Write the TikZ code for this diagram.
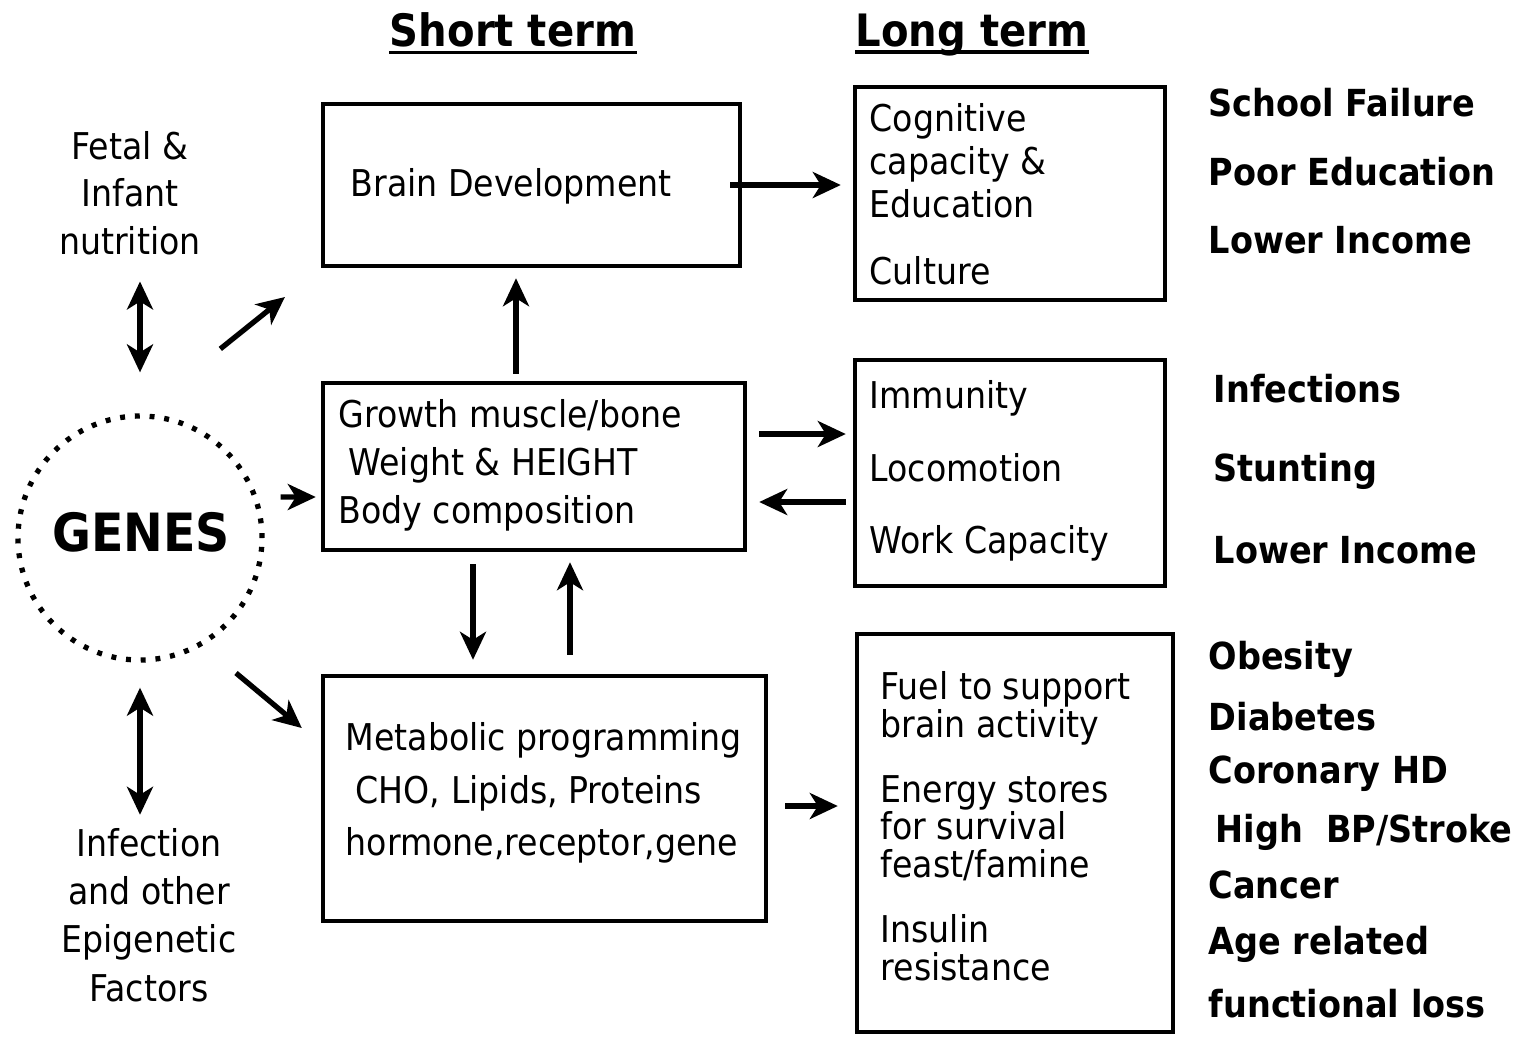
\documentclass[tikz,border=0pt]{standalone}
\usepackage{fontspec}
\setmainfont{DejaVu Sans Condensed}
\usetikzlibrary{arrows.meta}

\tikzset{
  box/.style={draw, line width=1.25pt, inner sep=0pt},
  txt/.style={inner sep=0pt, align=left, anchor=west},
  outcome/.style={inner sep=0pt, anchor=west, font=\bfseries\fontsize{10.6}{13}\selectfont},
  head/.style={inner sep=0pt, text depth=0pt, font=\bfseries\fontsize{12.7}{15}\selectfont},
  arr/.style={-{Stealth[length=2.8mm, width=2.6mm, inset=0.8mm]}, line width=1.5pt},
  dbl/.style={{Stealth[length=2.8mm, width=2.6mm, inset=0.8mm]}-{Stealth[length=2.8mm, width=2.6mm, inset=0.8mm]}, line width=1.5pt},
}

\begin{document}
\begin{tikzpicture}[x=0.1mm, y=-0.1mm]
  \useasboundingbox (0,0) rectangle (1537,1037);

  % headers
  \node[head] (shortt) at (513,30) {Short term};
  \node[head] (longt) at (972,30) {Long term};
  \draw[line width=1pt] ([yshift=-0.5mm]shortt.south west) -- ([yshift=-0.5mm]shortt.south east);
  \draw[line width=1pt] ([yshift=-0.5mm]longt.south west) -- ([yshift=-0.5mm]longt.south east);

  % genes and left side
  \node[circle, draw, line width=1.5pt, dash pattern=on 1.4pt off 2.8pt, minimum size=2.44cm, inner sep=0pt] (genes) at (140,538) {};
  \node[inner sep=0pt, font=\bfseries\fontsize{15}{18}\selectfont] (genestxt) at (141,532) {GENES};
  \node[inner sep=0pt, align=center, font=\fontsize{10.5}{13.5}\selectfont] (fetal) at (130,193) {Fetal \&\\Infant\\nutrition};
  \node[inner sep=0pt, align=center, font=\fontsize{10.5}{13.7}\selectfont] (infect) at (149,915) {Infection\\and other\\Epigenetic\\Factors};

  % short term boxes
  \node[box, minimum width=4.17cm, minimum height=1.62cm] (brain) at (531.5,185) {};
  \node[txt, font=\fontsize{10.5}{13}\selectfont] (braintxt) at (350,186) {Brain Development};
  \node[box, minimum width=4.22cm, minimum height=1.67cm] (growth) at (534,466.5) {};
  \node[txt, font=\fontsize{10.5}{13.7}\selectfont] (growthtxt) at (338,465) {Growth muscle/bone\\\hspace*{1mm}Weight \& HEIGHT\\Body composition};
  \node[box, minimum width=4.43cm, minimum height=2.45cm] (metab) at (544.5,798.5) {};
  \node[txt, font=\fontsize{10.5}{15}\selectfont] (metabtxt) at (345,793) {Metabolic programming\\\hspace*{1mm}CHO, Lipids, Proteins\\hormone,receptor,gene};

  % long term boxes
  \node[box, minimum width=3.10cm, minimum height=2.13cm] (cogn) at (1010,193.5) {};
  \node[txt, font=\fontsize{10.5}{12.3}\selectfont] (cogntxt) at (869,194) {Cognitive\\capacity \&\\Education\\[6.5pt]Culture};
  \node[box, minimum width=3.10cm, minimum height=2.26cm] (immu) at (1010,473) {};
  \node[txt, font=\fontsize{10.5}{20.6}\selectfont] (immutxt) at (869,471) {Immunity\\Locomotion\\Work Capacity};
  \node[box, minimum width=3.16cm, minimum height=3.98cm] (fuel) at (1015,833) {};
  \node[txt, font=\fontsize{10.5}{10.7}\selectfont] (fueltxt) at (880,826) {Fuel to support\\brain activity\\[7.8pt]Energy stores\\for survival\\feast/famine\\[7.8pt]Insulin\\resistance};

  % outcomes
  \foreach \y/\lbl [count=\i] in {103/School Failure, 172/Poor Education, 240/Lower Income}
    \node[outcome] (ra\i) at (1208,\y) {\lbl};
  \foreach \y/\lbl [count=\i] in {389/Infections, 471/Stunting, 550/Lower Income}
    \node[outcome] (rb\i) at (1213,\y) {\lbl};
  \foreach \y/\lbl [count=\i] in {659/Obesity, 717/Diabetes, 774/Coronary HD, 885/Cancer, 944/Age related, 1004/functional loss}
    \node[outcome] (rc\i) at (1208,\y) {\lbl};
  \node[outcome] (rc7) at (1215,832) {High\ \ BP/Stroke};

  % connectors
  \draw[dbl, shorten <=2.6mm, shorten >=4.1mm] (fetal.south -| genes.north) -- (genes.north);
  \draw[dbl, shorten <=2.5mm, shorten >=1.3mm] (genes.south) -- (genes.south |- infect.north);
  \draw[arr, shorten <=10.3mm, shorten >=4.6mm] (genes.north) -- (brain.south west);
  \draw[arr] ([shift={(16,-41)}]genes.east) -- ([shift={(-5,30.5)}]growth.west);
  \draw[arr] ([shift={(96,135)}]genes.center) -- ([shift={(-19,-70.5)}]metab.west);
  \draw[arr, shorten >=1.2mm] ([xshift=-1.2mm]brain.east) -- (brain.east -| cogn.west);
  \draw[arr, shorten <=0.7mm, shorten >=1mm] ([xshift=-1.8mm]growth.north) -- ([xshift=-1.8mm]growth.north |- brain.south);
  \draw[arr, shorten <=1.2mm, shorten >=0.7mm] ([yshift=3.25mm]growth.east) -- ([yshift=3.25mm]growth.east -| immu.west);
  \draw[arr, shorten <=0.7mm, shorten >=1.2mm] ([yshift=-3.55mm]growth.east -| immu.west) -- ([yshift=-3.55mm]growth.east);
  \draw[arr, shorten <=1.2mm, shorten >=1.4mm] ([xshift=-6.1mm]growth.south) -- ([xshift=-6.1mm]growth.south |- metab.north);
  \draw[arr, shorten <=1.9mm, shorten >=1mm] ([xshift=2.55mm]metab.north) -- ([xshift=2.55mm]metab.north |- growth.south);
  \draw[arr, shorten <=1.7mm, shorten >=1.7mm] ([yshift=-0.75mm]metab.east) -- ([yshift=-0.75mm]metab.east -| fuel.west);
\end{tikzpicture}
\end{document}
